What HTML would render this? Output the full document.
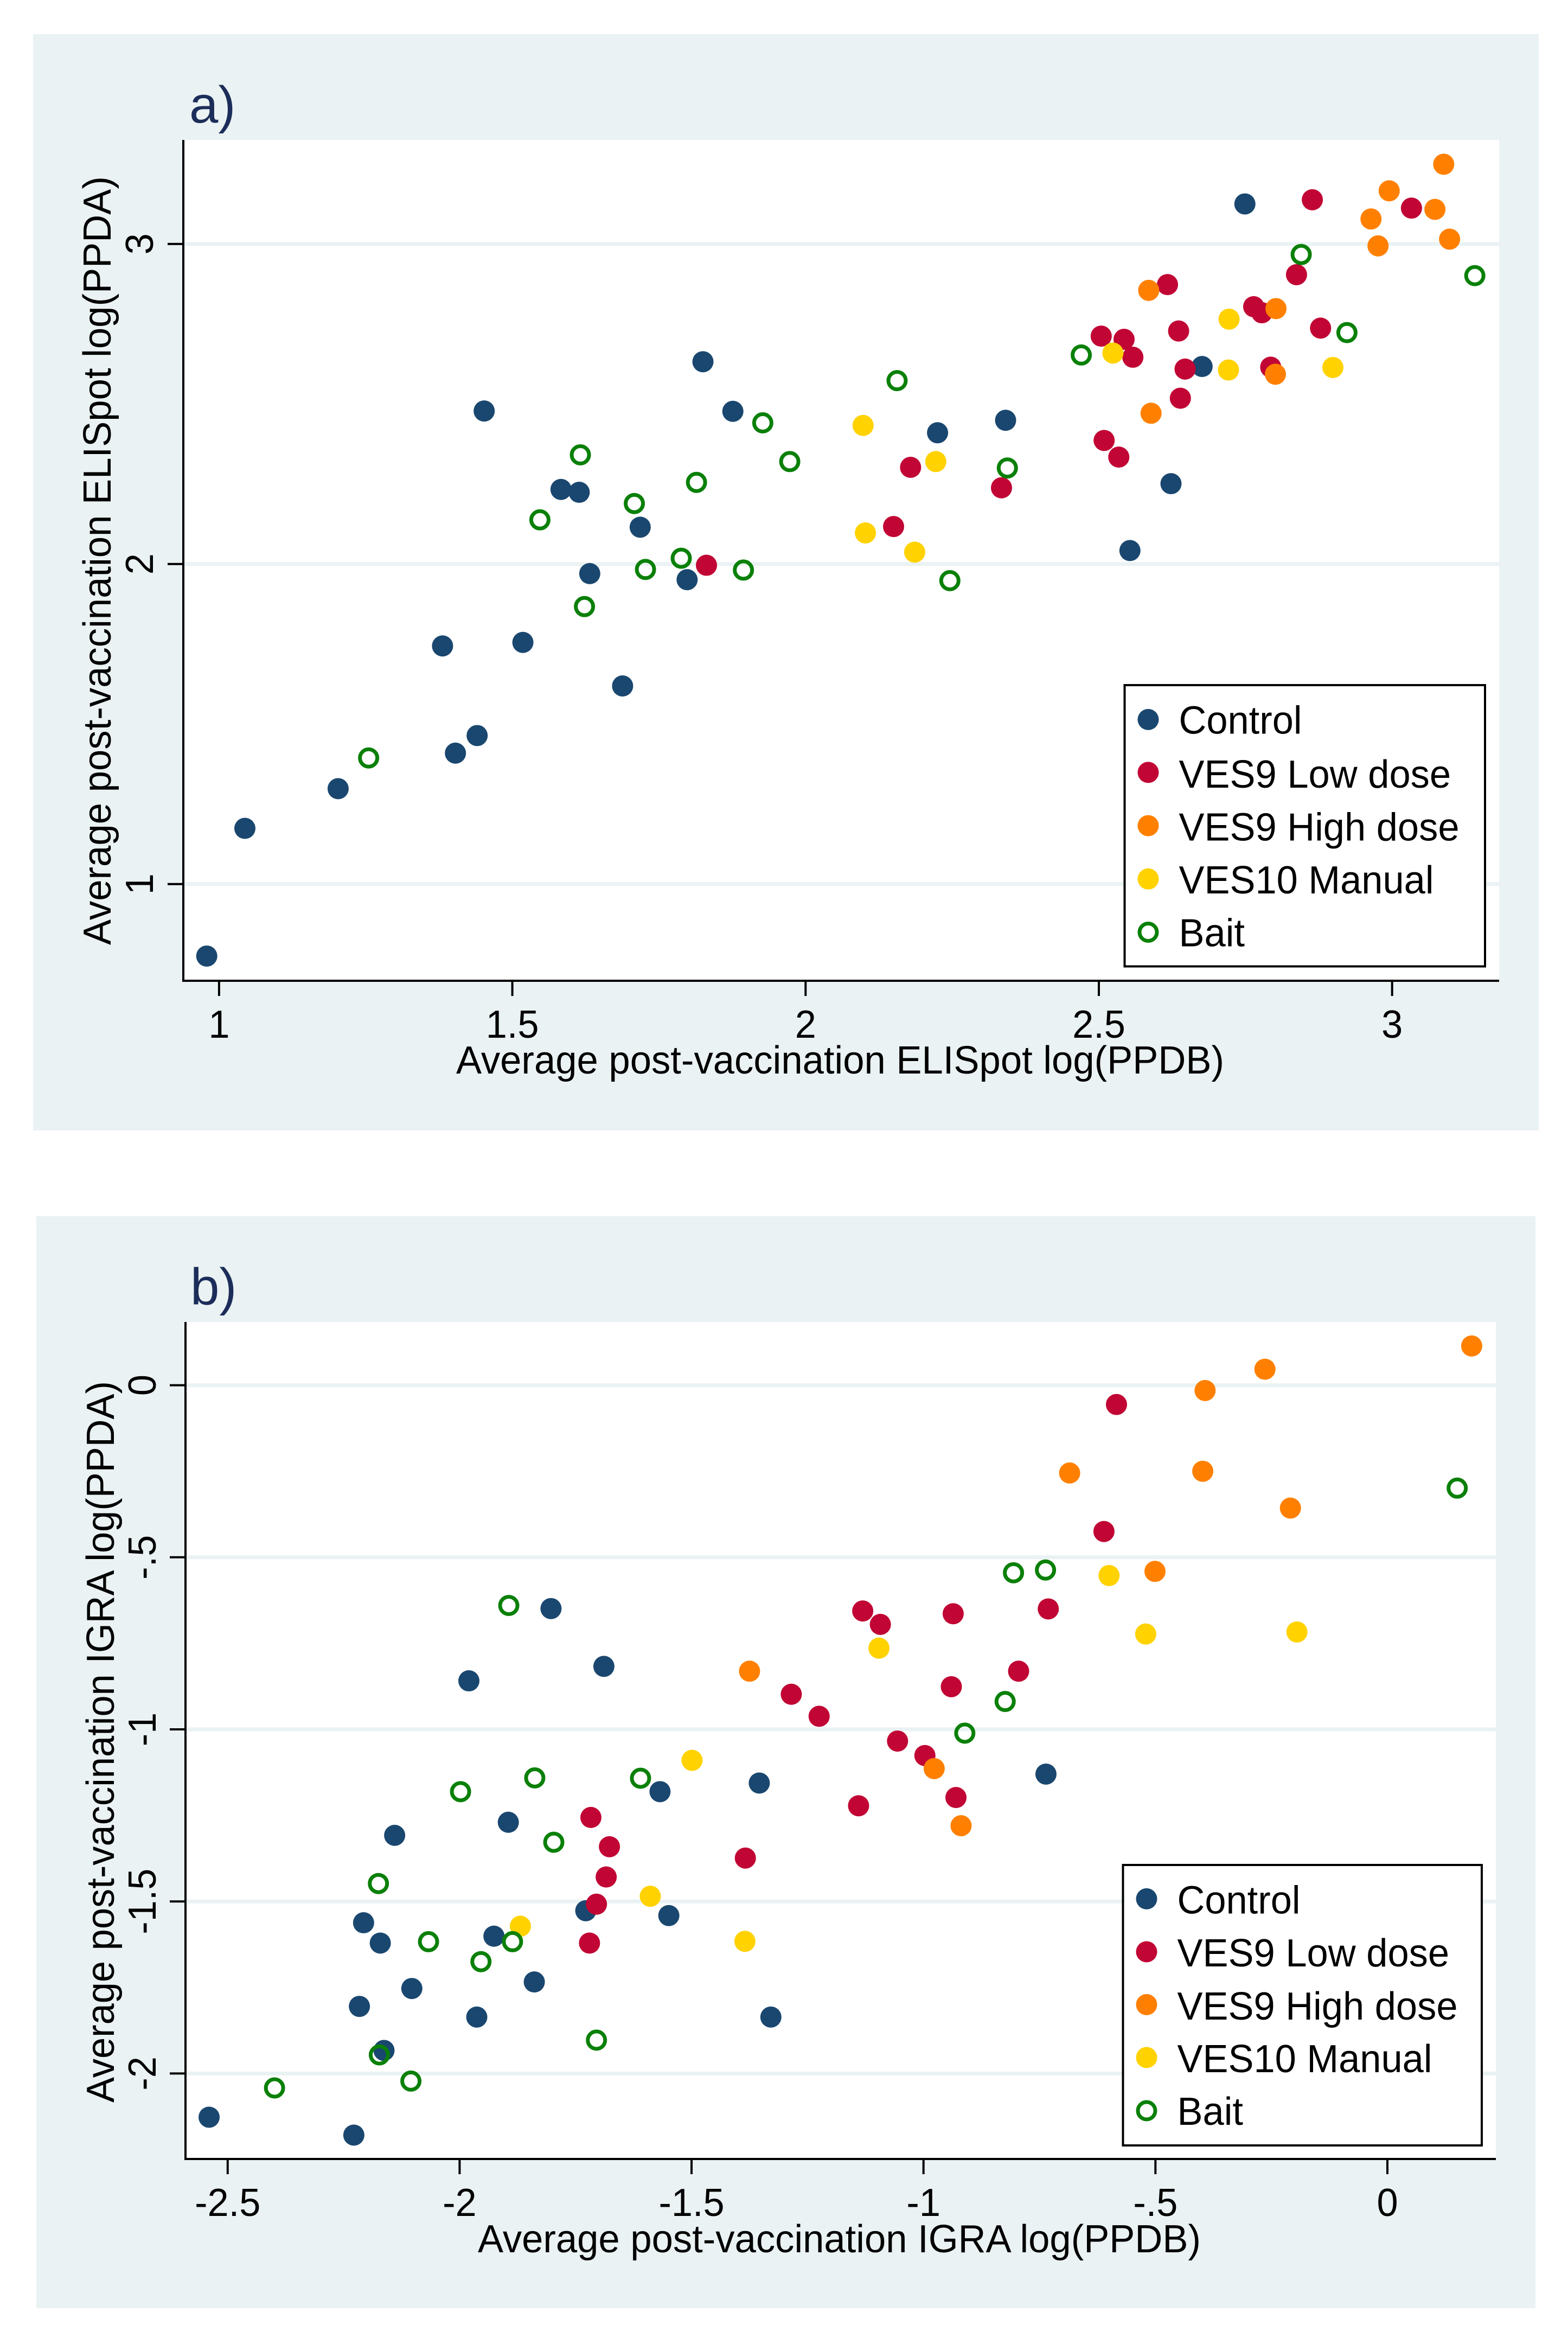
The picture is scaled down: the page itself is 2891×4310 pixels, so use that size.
<!DOCTYPE html>
<html lang="en">
<head>
<meta charset="utf-8">
<title>Post-vaccination ELISpot and IGRA scatter plots</title>
<style>
html,body{margin:0;padding:0;background:#fff;}
svg{display:block;}
text{font-family:"Liberation Sans",sans-serif;fill:#000;}
</style>
</head>
<body>
<svg id="figure" xmlns="http://www.w3.org/2000/svg" width="2891" height="4310" viewBox="0 0 2891 4310">
  <rect x="0" y="0" width="2891" height="4310" fill="#ffffff"/>

  <g id="panel-a">
    <rect x="61" y="63" width="2776" height="2021" fill="#eaf2f3"/>
    <rect x="338" y="258" width="2426" height="1550" fill="#ffffff"/>
    <g id="a-grid"></g>
    <g id="a-marks"></g>
    <g id="a-axes"></g>
    <text x="349" y="226" font-size="96" style="fill:#1c2d5a">a)</text>
    <text x="1549" y="1979" font-size="72.5" text-anchor="middle" textLength="1416" lengthAdjust="spacingAndGlyphs">Average post-vaccination ELISpot log(PPDB)</text>
    <text transform="translate(204,1033.5) rotate(-90)" font-size="72.5" text-anchor="middle" textLength="1417" lengthAdjust="spacingAndGlyphs">Average post-vaccination ELISpot log(PPDA)</text>
    <g>
      <rect x="2073.5" y="1263" width="664.5" height="518.5" fill="#ffffff" stroke="#000" stroke-width="4"/>
      <g>
        <circle cx="2117" cy="1326.4" r="19.5" fill="#1a476f"/>
        <text x="2173.5" y="1352.5" font-size="72.5" textLength="227" lengthAdjust="spacingAndGlyphs">Control</text>
      </g>
      <g>
        <circle cx="2117" cy="1423.9" r="19.5" fill="#c10534"/>
        <text x="2173.5" y="1452" font-size="72.5" textLength="501.6" lengthAdjust="spacingAndGlyphs">VES9 Low dose</text>
      </g>
      <g>
        <circle cx="2117" cy="1522.1" r="19.5" fill="#ff8000"/>
        <text x="2173.5" y="1549.5" font-size="72.5" textLength="517" lengthAdjust="spacingAndGlyphs">VES9 High dose</text>
      </g>
      <g>
        <circle cx="2117" cy="1620.3" r="19.5" fill="#ffd200"/>
        <text x="2173.5" y="1647" font-size="72.5" textLength="470" lengthAdjust="spacingAndGlyphs">VES10 Manual</text>
      </g>
      <g>
        <circle cx="2117" cy="1718.5" r="16" fill="#ffffff" stroke="#0a8008" stroke-width="7"/>
        <text x="2173.5" y="1744.5" font-size="72.5" textLength="121.5" lengthAdjust="spacingAndGlyphs">Bait</text>
      </g>
    </g>
  </g>

  <g id="panel-b">
    <rect x="67" y="2242" width="2764" height="2013" fill="#eaf2f3"/>
    <rect x="342" y="2437" width="2416" height="1543" fill="#ffffff"/>
    <g id="b-grid"></g>
    <g id="b-marks"></g>
    <g id="b-axes"></g>
    <text x="351" y="2405" font-size="96" style="fill:#1c2d5a">b)</text>
    <text x="1547.5" y="4152" font-size="72.5" text-anchor="middle" textLength="1333" lengthAdjust="spacingAndGlyphs">Average post-vaccination IGRA log(PPDB)</text>
    <text transform="translate(210,3211) rotate(-90)" font-size="72.5" text-anchor="middle" textLength="1330" lengthAdjust="spacingAndGlyphs">Average post-vaccination IGRA log(PPDA)</text>
    <g>
      <rect x="2070.5" y="3438" width="661.5" height="517" fill="#ffffff" stroke="#000" stroke-width="4"/>
      <g>
        <circle cx="2114" cy="3500.4" r="19.5" fill="#1a476f"/>
        <text x="2170.5" y="3527.5" font-size="72.5" textLength="227" lengthAdjust="spacingAndGlyphs">Control</text>
      </g>
      <g>
        <circle cx="2114" cy="3598" r="19.5" fill="#c10534"/>
        <text x="2170.5" y="3625" font-size="72.5" textLength="501.6" lengthAdjust="spacingAndGlyphs">VES9 Low dose</text>
      </g>
      <g>
        <circle cx="2114" cy="3695.4" r="19.5" fill="#ff8000"/>
        <text x="2170.5" y="3723" font-size="72.5" textLength="517" lengthAdjust="spacingAndGlyphs">VES9 High dose</text>
      </g>
      <g>
        <circle cx="2114" cy="3793" r="19.5" fill="#ffd200"/>
        <text x="2170.5" y="3820" font-size="72.5" textLength="470" lengthAdjust="spacingAndGlyphs">VES10 Manual</text>
      </g>
      <g>
        <circle cx="2114" cy="3891" r="16" fill="#ffffff" stroke="#0a8008" stroke-width="7"/>
        <text x="2170.5" y="3917" font-size="72.5" textLength="121.5" lengthAdjust="spacingAndGlyphs">Bait</text>
      </g>
    </g>
  </g>
</svg>

<script>
// Panel a: tick values and labels
const aXTicks = [1, 1.5, 2, 2.5, 3];
const aXTickLabels = ["1", "1.5", "2", "2.5", "3"];
const aYTicks = [1, 2, 3];
const aYTickLabels = ["1", "2", "3"];

// Panel a: series values (x = log PPDB, y = log PPDA)
const aControlX = [1.452,1.825,1.876,1.583,1.614,1.718,1.632,1.798,1.381,1.518,1.688,1.440,1.403,1.203,1.044,0.979,2.749,2.676,2.341,2.225,2.623,2.553];
const aControlY = [2.478,2.632,2.477,2.233,2.224,2.115,1.970,1.951,1.744,1.755,1.619,1.464,1.409,1.298,1.174,0.775,3.125,2.617,2.449,2.410,2.251,2.042];
const aLowX = [1.831,2.864,3.033,2.837,2.617,2.778,2.764,2.636,2.878,2.504,2.543,2.558,2.647,2.793,2.639,2.509,2.534,2.179,2.334,2.150];
const aLowY = [1.996,3.138,3.112,2.904,2.873,2.785,2.804,2.728,2.737,2.712,2.702,2.646,2.609,2.615,2.518,2.386,2.334,2.302,2.238,2.117];
const aHighX = [3.088,2.995,3.073,2.964,3.098,2.976,2.585,2.802,2.801,2.589];
const aHighY = [3.249,3.166,3.108,3.078,3.015,2.994,2.855,2.798,2.593,2.471];
const aManualX = [2.722,2.524,2.721,2.899,2.098,2.222,2.102,2.186];
const aManualY = [2.765,2.659,2.606,2.614,2.433,2.320,2.097,2.037];
const aBaitX = [1.927,1.616,1.973,1.814,1.708,1.547,1.788,1.727,1.894,1.623,1.255,2.845,3.141,2.923,2.470,2.156,2.344,2.246];
const aBaitY = [2.441,2.341,2.320,2.255,2.189,2.138,2.018,1.983,1.981,1.867,1.394,2.967,2.901,2.723,2.653,2.573,2.300,1.948];

// Panel b: tick values and labels
const bXTicks = [-2.5, -2, -1.5, -1, -0.5, 0];
const bXTickLabels = ["-2.5", "-2", "-1.5", "-1", "-.5", "0"];
const bYTicks = [-2, -1.5, -1, -0.5, 0];
const bYTickLabels = ["-2", "-1.5", "-1", "-.5", "0"];

// Panel b: series values (x = log PPDB, y = log PPDA)
const bControlX = [-1.803,-1.689,-1.980,-1.568,-1.354,-1.895,-2.140,-1.728,-1.549,-2.207,-1.926,-2.171,-1.839,-2.103,-2.216,-1.963,-1.329,-2.163,-2.540,-2.228,-0.736];
const bControlY = [-0.649,-0.817,-0.859,-1.181,-1.156,-1.270,-1.308,-1.527,-1.541,-1.562,-1.601,-1.621,-1.734,-1.753,-1.805,-1.836,-1.836,-1.933,-2.127,-2.179,-1.130];
const bLowX = [-1.285,-1.225,-1.717,-1.677,-1.384,-1.684,-1.705,-1.720,-0.584,-0.611,-1.131,-1.093,-0.936,-0.731,-0.795,-0.940,-1.056,-0.997,-0.930,-1.140];
const bLowY = [-0.898,-0.962,-1.256,-1.341,-1.374,-1.429,-1.508,-1.621,-0.056,-0.425,-0.656,-0.695,-0.664,-0.650,-0.831,-0.876,-1.034,-1.076,-1.198,-1.222];
const bHighX = [0.1817,-0.264,-0.393,-0.685,-0.398,-0.209,-0.501,-1.375,-0.977,-0.919];
const bHighY = [0.114,0.0465,-0.0154,-0.255,-0.250,-0.357,-0.541,-0.831,-1.114,-1.280];
const bManualX = [-1.499,-1.589,-1.869,-1.385,-0.600,-1.096,-0.521,-0.195];
const bManualY = [-1.090,-1.485,-1.572,-1.616,-0.553,-0.764,-0.723,-0.717];
const bBaitX = [-1.894,-1.838,-1.610,-1.998,-1.797,-2.175,-2.067,-1.886,-1.954,-1.705,-2.173,-2.105,-2.399,0.1505,-0.806,-0.737,-0.824,-0.911];
const bBaitY = [-0.640,-1.141,-1.142,-1.181,-1.328,-1.448,-1.617,-1.617,-1.675,-1.903,-1.946,-2.022,-2.042,-0.299,-0.545,-0.537,-0.919,-1.011];

// Axis functions
function aScaleX(v) { return 403.9 + (v - 1) * 1081.4; }
function aScaleY(v) { return 449.7 + (3 - v) * 590; }
function bScaleX(v) { return 2558 + v * 855.3; }
function bScaleY(v) { return 2553.6 - v * 634.4; }

const SVG_NS = "http://www.w3.org/2000/svg";

function make(tag, parent, attrs) {
  const el = document.createElementNS(SVG_NS, tag);
  for (const k in attrs) el.setAttribute(k, attrs[k]);
  parent.appendChild(el);
  return el;
}

// Tick labels are drawn 3% narrower than their natural width, as in the reference
function condense(label) {
  label.setAttribute("textLength", label.getComputedTextLength() * 0.97);
  label.setAttribute("lengthAdjust", "spacingAndGlyphs");
}

function drawSolid(parent, xs, ys, sx, sy, color, seriesName) {
  xs.forEach(function (x, i) {
    const el = make("circle", parent, { cx: sx(x), cy: sy(ys[i]), r: 19.5, fill: color });
    
    
  });
}

function drawRing(parent, xs, ys, sx, sy, color, seriesName) {
  xs.forEach(function (x, i) {
    const el = make("circle", parent, { cx: sx(x), cy: sy(ys[i]), r: 16, fill: "none", stroke: color, "stroke-width": 7 });
    
    
  });
}

function drawAxes(prefix, box, xTicks, xLabels, yTicks, yLabels, sx, sy) {
  const grid = document.getElementById(prefix + "-grid");
  const axes = document.getElementById(prefix + "-axes");

  yTicks.forEach(function (t, i) {
    const line = make("line", grid, { x1: box.left, x2: box.right, y1: sy(t), y2: sy(t), stroke: "#eaf2f3", "stroke-width": 7 });
    
    

    const tick = make("line", axes, { x1: box.left - 29, x2: box.left, y1: sy(t), y2: sy(t), stroke: "#000", "stroke-width": 4 });
    
    

    const label = make("text", axes, { transform: "translate(" + box.yLabelX + "," + sy(t) + ") rotate(-90)", "font-size": 72.5, "text-anchor": "middle" });
    label.textContent = yLabels[i];
    condense(label);
    
    
  });

  xTicks.forEach(function (t, i) {
    const tick = make("line", axes, { x1: sx(t), x2: sx(t), y1: box.bottom, y2: box.bottom + 28, stroke: "#000", "stroke-width": 4 });
    
    

    const label = make("text", axes, { x: sx(t), y: box.xLabelY, "font-size": 72.5, "text-anchor": "middle" });
    label.textContent = xLabels[i];
    condense(label);
    
    
  });

  const yAxis = make("line", axes, { x1: box.left, x2: box.left, y1: box.top, y2: box.bottom + 2, stroke: "#000", "stroke-width": 4 });
  
  

  const xAxis = make("line", axes, { x1: box.left, x2: box.right, y1: box.bottom, y2: box.bottom, stroke: "#000", "stroke-width": 4 });
  
  
}

const NAVY = "#1a476f", RED = "#c10534", ORANGE = "#ff8000", GOLD = "#ffd200", GREEN = "#0a8008";

drawAxes("a", { left: 338, right: 2764, top: 258, bottom: 1808, yLabelX: 282, xLabelY: 1913 },
  aXTicks, aXTickLabels, aYTicks, aYTickLabels, aScaleX, aScaleY);
const aMarks = document.getElementById("a-marks");
drawSolid(aMarks, aControlX, aControlY, aScaleX, aScaleY, NAVY, "control");
drawSolid(aMarks, aLowX, aLowY, aScaleX, aScaleY, RED, "ves9-low-dose");
drawSolid(aMarks, aHighX, aHighY, aScaleX, aScaleY, ORANGE, "ves9-high-dose");
drawSolid(aMarks, aManualX, aManualY, aScaleX, aScaleY, GOLD, "ves10-manual");
drawRing(aMarks, aBaitX, aBaitY, aScaleX, aScaleY, GREEN, "bait");

drawAxes("b", { left: 342, right: 2758, top: 2437, bottom: 3980, yLabelX: 287, xLabelY: 4085 },
  bXTicks, bXTickLabels, bYTicks, bYTickLabels, bScaleX, bScaleY);
const bMarks = document.getElementById("b-marks");
drawSolid(bMarks, bControlX, bControlY, bScaleX, bScaleY, NAVY, "control");
drawSolid(bMarks, bLowX, bLowY, bScaleX, bScaleY, RED, "ves9-low-dose");
drawSolid(bMarks, bHighX, bHighY, bScaleX, bScaleY, ORANGE, "ves9-high-dose");
drawSolid(bMarks, bManualX, bManualY, bScaleX, bScaleY, GOLD, "ves10-manual");
drawRing(bMarks, bBaitX, bBaitY, bScaleX, bScaleY, GREEN, "bait");
</script>
</body>
</html>
